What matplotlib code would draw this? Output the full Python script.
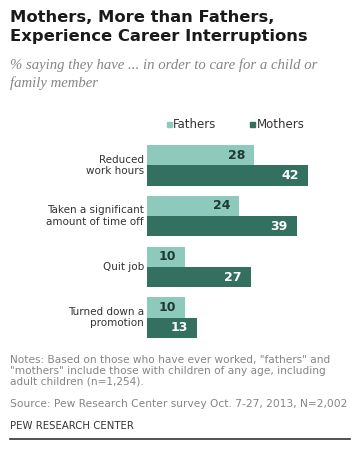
import matplotlib.pyplot as plt
import numpy as np

# data
categories = ["Reduced\nwork hours", "Taken a significant\namount of time off",
              "Quit job", "Turned down a\npromotion"]
fathers = [28, 24, 10, 10]
mothers = [42, 39, 27, 13]

title = "Mothers, More than Fathers,\nExperience Career Interruptions"
subtitle = "% saying they have ... in order to care for a child or\nfamily member"
notes = ('Notes: Based on those who have ever worked, "fathers" and\n'
         '"mothers" include those with children of any age, including\n'
         'adult children (n=1,254).')
source = "Source: Pew Research Center survey Oct. 7-27, 2013, N=2,002"
credit = "PEW RESEARCH CENTER"

c_fath = "#8dcabc"
c_moth = "#33705f"

W, H = 359, 450
fig = plt.figure(figsize=(W / 100, H / 100), dpi=100)
fig.patch.set_facecolor("white")


def px(x, y):
    # pixel coords (top-left origin) -> figure fraction
    return x / W, 1 - y / H


# titles
fig.text(*px(10, 27), title, fontsize=11.8, fontweight="bold", color="#1a1a1a",
         ha="left", va="center", linespacing=1.3)
fig.text(*px(10, 74), subtitle, fontsize=10.6, style="italic", color="#858585",
         family="Liberation Serif", ha="left", va="center", linespacing=1.35)

# bars axes
left, right, top, bottom = 147, 308, 145, 338
ax = fig.add_axes([left / W, 1 - bottom / H, (right - left) / W, (bottom - top) / H])
g = np.arange(len(categories))
h = 0.4
ax.barh(g - h / 2, fathers, height=h, color=c_fath)
ax.barh(g + h / 2, mothers, height=h, color=c_moth)
ax.set_xlim(0, max(mothers))
ax.set_ylim(g[-1] + 2 * h - 0.4, -2 * h + 0.4)
ax.axis("off")

for i in g:
    ax.text(fathers[i] - 2.3, i - h / 2, str(fathers[i]), ha="right", va="center",
            fontsize=9, fontweight="bold", color="#1e3a33")
    ax.text(mothers[i] - 2.3, i + h / 2, str(mothers[i]), ha="right", va="center",
            fontsize=9, fontweight="bold", color="white")
    ax.text(-0.8, i, categories[i], ha="right", va="center", fontsize=7.5,
            color="#333333", linespacing=1.2)

# legend
fig.patches.append(plt.Rectangle(px(167, 126.5), 5 / W, 5 / H, color=c_fath,
                                 transform=fig.transFigure, figure=fig))
fig.text(*px(173, 124), "Fathers", fontsize=8.5, color="#333333", ha="left", va="center")
fig.patches.append(plt.Rectangle(px(250, 126.5), 5 / W, 5 / H, color=c_moth,
                                 transform=fig.transFigure, figure=fig))
fig.text(*px(257, 124), "Mothers", fontsize=8.5, color="#333333", ha="left", va="center")

# footer
fig.text(*px(10, 370.5), notes, fontsize=7.6, color="#858585", ha="left", va="center",
         linespacing=1.1)
fig.text(*px(10, 404), source, fontsize=7.7, color="#858585", ha="left", va="center")
fig.text(*px(10, 426), credit, fontsize=7.3, color="#333333", ha="left", va="center")
fig.add_artist(plt.Line2D([10 / W, 350 / W], [1 - 439 / H] * 2, color="#333333", lw=1.2))

fig.savefig("out.png", dpi=100)
